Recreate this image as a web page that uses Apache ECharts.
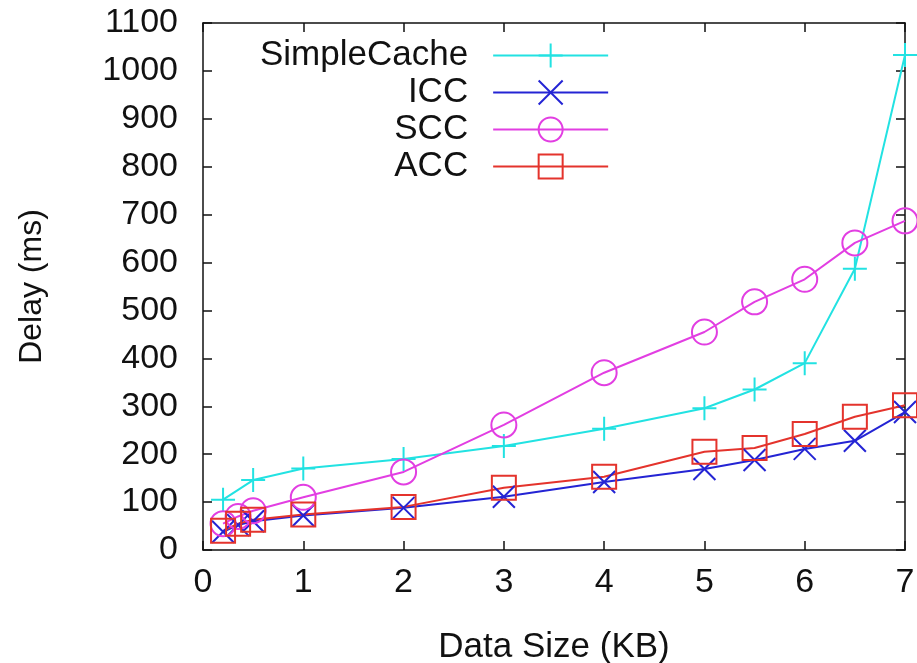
<!DOCTYPE html>
<html lang="en">
<head>
    <title>Delay vs Data Size</title>
    <meta charset="utf-8" />
    <script src="https://cdn.jsdelivr.net/npm/echarts@6/dist/echarts.min.js"></script>
    <style>
        html, body {
            margin: 0;
            padding: 0;
            background-color: #fff;
        }

        #main {
            width: 917px;
            height: 663px;
        }
    </style>
</head>
<body>
<div id="main"></div>
<script type="text/javascript">
    // data
    let dataSize = [0.2, 0.35, 0.5, 1, 2, 3, 4, 5, 5.5, 6, 6.5, 7]
    let simpleCache = [105, null, 146, 170, 190, 217, 253, 296, 335, 390, 587, 1033]
    let icc = [38, 52, 60, 72, 88, 111, 142, 169, 188, 211, 228, 288]
    let scc = [55, 70, 82, 110, 163, 261, 370, 455, 518, 565, 641, 687]
    let acc = [40, 55, 63, 74, 90, 130, 153, 205, 213, 242, 278, 302]

    let fontName = 'Liberation Sans'
    let black = '#111'

    let plusPath = 'path://M5,0V10M0,5H10'
    let crossPath = 'path://M0,0L10,10M10,0L0,10'

    function pairs(ys) {
        return dataSize.map(function (x, i) { return [x, ys[i]] })
    }

    function makeSeries(name, ys, color, symbol, size) {
        return {
            name: name,
            type: 'line',
            data: pairs(ys),
            connectNulls: true,
            symbol: symbol,
            symbolSize: size,
            showAllSymbol: true,
            lineStyle: { color: color, width: 2 },
            itemStyle: { color: 'rgba(0,0,0,0)', borderColor: color, borderWidth: 2 },
            emphasis: { disabled: true },
            animation: false
        }
    }

    let axisLineStyle = { show: true, onZero: false, lineStyle: { color: black, width: 1.5 } }
    let tickStyle = { show: true, inside: true, length: 9, lineStyle: { color: black, width: 1.5 } }
    let labelStyle = { fontFamily: fontName, fontSize: 34, color: black }

    let myChart = echarts.init(document.getElementById('main'))

    myChart.setOption({
        backgroundColor: '#fff',
        animation: false,
        grid: { left: 203, right: 12, top: 23, bottom: 113, containLabel: false, outerBoundsMode: 'none' },
        legend: {
            orient: 'vertical',
            left: 255,
            top: 33,
            align: 'right',
            itemWidth: 115,
            itemHeight: 30,
            itemGap: 2,
            textStyle: { fontFamily: fontName, fontSize: 35, color: black, lineHeight: 35, padding: [0, 20, 0, 0] },
            data: ['SimpleCache', 'ICC', 'SCC', 'ACC']
        },
        xAxis: [{
            type: 'value',
            min: 0,
            max: 7,
            interval: 1,
            position: 'bottom',
            name: 'Data Size (KB)',
            nameLocation: 'middle',
            nameGap: 80,
            nameTextStyle: { fontFamily: fontName, fontSize: 35, color: black },
            axisLine: axisLineStyle,
            axisTick: tickStyle,
            axisLabel: Object.assign({ margin: 16 }, labelStyle),
            splitLine: { show: false }
        }, {
            type: 'value',
            min: 0,
            max: 7,
            interval: 1,
            position: 'top',
            axisLine: axisLineStyle,
            axisTick: tickStyle,
            axisLabel: { show: false },
            splitLine: { show: false }
        }],
        yAxis: [{
            type: 'value',
            min: 0,
            max: 1100,
            interval: 100,
            position: 'left',
            name: 'Delay (ms)',
            nameLocation: 'middle',
            nameGap: 155,
            nameTextStyle: { fontFamily: fontName, fontSize: 32, color: black },
            axisLine: axisLineStyle,
            axisTick: tickStyle,
            axisLabel: Object.assign({ margin: 25, formatter: function (v) { return String(v) } }, labelStyle),
            splitLine: { show: false }
        }, {
            type: 'value',
            min: 0,
            max: 1100,
            interval: 100,
            position: 'right',
            axisLine: axisLineStyle,
            axisTick: tickStyle,
            axisLabel: { show: false },
            splitLine: { show: false }
        }],
        series: [
            makeSeries('SimpleCache', simpleCache, '#22e2e2', plusPath, 24),
            makeSeries('ICC', icc, '#2424d4', crossPath, 22),
            makeSeries('SCC', scc, '#e23ee2', 'circle', 25),
            makeSeries('ACC', acc, '#e4332c', 'rect', 24)
        ]
    })
</script>
</body>
</html>
